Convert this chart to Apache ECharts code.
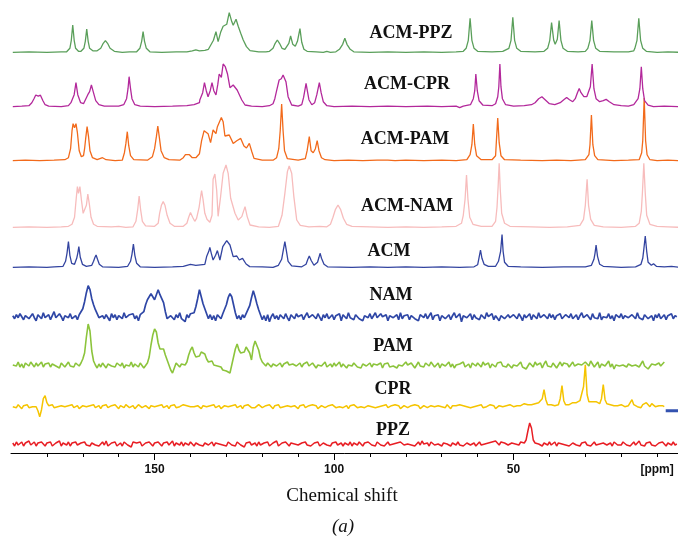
<!DOCTYPE html>
<html>
<head>
<meta charset="utf-8">
<title>13C NMR spectra</title>
<script src="https://cdn.jsdelivr.net/npm/echarts@6/dist/echarts.min.js"></script>
<style>
html, body { margin: 0; padding: 0; background: #fff; }
#chart { width: 678px; height: 536px; }
</style>
</head>
<body>
<div id="chart"></div>
<script>
// spectra from top to bottom
const specNames = ['ACM-PPZ', 'ACM-CPR', 'ACM-PAM', 'ACM-NAM', 'ACM', 'NAM', 'PAM', 'CPR', 'PPZ'];
// baseline of each trace (stack offset)
const specBase = [400.7, 346.3, 292.3, 225.7, 185.7, 136.3, 88, 46.3, 9];

// x axis ticks (ppm)
const axisTicks = [180, 170, 160, 150, 140, 130, 120, 110, 100, 90, 80, 70, 60, 50, 40, 30, 20, 10];
const majorTicks = [150, 100, 50];
const tickLabels = [150, 100, 50, 10];

// [ppm, intensity]
const acmPpz = [
  [189.5,0],[185,0.5],[180,0],[176,0.5],
  [174.5,0.5],[173.6,4],[173.2,12],[172.8,27.3],[172.4,12],[172,4],[171.2,1],
  [170.5,1],[169.7,4],[169.3,11],[168.9,23.3],[168.5,11],[168.1,4],[167.2,1.5],
  [166,1.5],[165,4],[164.3,9],[163.7,11.7],[163.1,9],[162.4,4],[161.2,1],[159,0],[157,0.5],
  [155,0.5],[154.1,4],[153.6,11],[153.2,20.7],[152.8,11],[152.3,4],[151.3,0.5],
  [148,0],[144,0.5],[141,0.5],[139.5,1.5],[138.5,2.5],[137.5,1.5],[136,2],
  [135,3],[134.6,5],[133.6,12],[132.9,20.7],[132.3,10.7],[131.6,20],[130.9,26],[129.9,28],[129.2,39.7],
  [128.5,30.7],[128.1,27],[127.3,33],[126.7,26],[126,19],[125.3,12.3],[124.4,5.7],[123.4,1.7],[121,0.5],[119,0.5],
  [118,1],[117,4],[116.4,9],[115.8,12.3],[115.2,9],[114.5,4],[113.7,3],
  [112.6,9],[112.1,16.3],[111.5,8],[110.8,6],
  [110.2,11],[109.5,23.7],[109,10],[108.4,3],[107.5,1],[105,0.5],[103,0],[102,1],[101,0],
  [99.5,0.5],[98.5,3],[97.6,8],[97,14],[96.4,8],[95.5,3],[94.5,0.5],
  [90,0],[85,0.5],[80,0],[75,0.5],[70,0],[66,0.5],[64,1],
  [63.2,4],[62.6,12],[62.1,34],[61.6,12],[61,4],[60,1],[56,0.5],[53,1],
  [51.3,4],[50.7,12],[50.2,35],[49.7,12],[49.1,4],[48,1],[44,0.5],[41.5,1],
  [40.5,4],[39.9,12],[39.4,29.7],[38.8,12],[38.4,8],[37.8,13],[37.3,31.7],[36.8,12],[36.2,4],[35,1],[32,0.5],[30,1],
  [29.3,4],[28.7,12],[28.2,31.7],[27.7,12],[27.1,4],[26,1],[22,0.5],[18,0.5],[16.5,1.5],
  [16.2,4],[15.6,12],[15.1,34],[14.6,12],[14,4],[13,1],[10,0],[7,0.5],[4,0]
];

const acmCpr = [
  [189.5,0],[187,0.5],[185,1],
  [184.8,1.5],[184.2,4],[183.6,8],[183.1,11.7],[182.4,10.5],[181.8,11.5],[181.1,6],[180.5,2],[179.5,0.5],[176,0],[174,1],
  [173.3,4],[172.4,12],[171.9,24],[171.4,12],[170.6,4],[169.8,3],
  [169,9],[168.6,12],[168.1,15],[167.6,21.7],[167.1,15],[166.4,6],[165.5,2],[164,0.5],[160,0.5],[158.6,2],
  [157.8,8],[157.4,18],[157.1,30],[156.7,18],[156.3,8],[155.5,2],[154,0.5],[150,0],[145,0.5],[141,1],[139,2],[137.5,4],
  [137.4,6.7],[136.6,14],[136.1,24],[135.6,16],[135.1,10],[134.5,16],[134,24],[133.5,16],[132.9,11.7],[132.4,22],
  [132,32.7],[131.4,29.3],[130.9,42.7],[130.3,40],[129.7,33],[129,19],[128.1,21.7],[127,16.7],[125.7,6.7],[124.8,1.7],[123,0.5],[120,0],[118,1],
  [117,3],[116.5,8],[116,16],[115.3,26.7],[114.7,28],[114.2,31.7],[113.4,25],[112.8,10],[111.8,1.7],[110,0.5],[109,2],
  [108.5,9],[108.2,15],[107.8,23.3],[107.4,15],[107,7],[106.2,2],[105.4,4],
  [104.8,12],[104.1,24],[103.6,14],[103,5],[102,1],[100,0],[95,0.5],[90,0],[85,0.5],[80,0],[74,0.5],[70,0],[66,0.5],[65,-1],[64,0.5],[62,2],
  [61.2,8],[60.8,16],[60.5,32.7],[60.1,16],[59.6,6],[58.5,1.5],[56,1],[55,3],
  [54.4,10],[54.1,20],[53.8,42.7],[53.5,20],[53.1,8],[52.2,2],[50,0.5],[47,1],[45,2],
  [44,4],[43,8],[42.1,10],[41.2,7],[40,3],[38.5,2],[37,4],
  [36,7],[35.2,9.3],[34.4,7],[33.5,5],[32.8,8],[32.2,14],[31.7,18.3],[31.2,14],[30.4,10],[29.6,10],[29.2,14],
  [28.6,20],[28.1,42.7],[27.6,18],[27,8],[26,5],[25,6],[24.2,7.3],[23.3,5],[22,2],[20,1],[18,0.5],[16.5,2],
  [15.3,8],[14.8,18],[14.4,40],[14,18],[13.5,6],[12.5,1.5],[11,0],[8,0.5],[4,0]
];

const acmPam = [
  [189.5,0],[186,0.5],[182,0],[178,0.5],[175,1],
  [174,3],[173.4,12],[173,30],[172.7,37],[172.3,33],[171.9,37],[171.5,28],[171,10],[170.4,4],[169.8,5],
  [169.5,12],[169.2,22],[168.8,34],[168.4,24],[168,10],[167.3,3],[166,1],[164.5,3],[163.5,1],[161,0],[159,0.5],
  [158.4,8],[158,17],[157.6,29],[157.2,15],[156.7,5],[155.8,1],[152,0.5],[150.6,4],
  [150,12],[149.5,24],[149.1,34.7],[148.7,24],[148.2,10],[147.3,3],[146,1],[143,0.5],[142,3],
  [141.4,6],[140.9,8],[140.3,6],[139.5,3],[138.5,3],[137.5,7],
  [136.9,20],[136.2,30],[135.1,27],[134.4,18],[133.7,30.7],[132.9,27],[132.5,34],[131.4,43.3],[130.9,39],[130.4,24.7],
  [129.9,24],[129.2,25.7],[128.1,17.3],[127.1,20],[126,22.3],[125.1,14.7],[124.4,12.7],[123.6,17.3],[122.9,9],[122.3,2.3],
  [120,0.5],[117,0.5],[116,3],
  [115.4,12],[115,30],[114.6,56.7],[114.2,30],[113.8,10],[113,2],[110,0.5],[108,2],
  [107.5,10],[106.9,24],[106.4,10],[105.8,8],
  [105.2,12],[104.7,20],[104.2,10],[103.5,3],[102.5,1],[100,0],[96,0.5],[92,0],[88,0.5],[85,0.5],[83,0],[80,0.5],[75,0],[70,0.5],[66,0],[63,1],
  [62.1,6],[61.6,16],[61.2,36.7],[60.8,16],[60.3,5],[59,1],[56,1],[55,5],
  [54.8,18],[54.4,42.7],[54,18],[53.5,5],[52.5,1],[48,0.5],[42,0],[38,0.5],[34,0],[30,1],
  [29,6],[28.7,16],[28.3,45.7],[27.9,16],[27.4,5],[26.5,1],[22,0],[18,0.5],[15,1],
  [14.3,8],[14,20],[13.6,62.7],[13.2,20],[12.8,6],[12,1],[10,0],[7,0.5],[4,0]
];

const acmNam = [
  [189.5,0],[185,0.5],[180,0],[176,0.5],[174,1],
  [173,3],[172.3,10],[171.8,30],[171.5,40.7],[171.2,34],[170.8,40.7],[170.4,28],[169.9,14],[169.4,12],
  [169,22],[168.6,33.3],[168.2,24],[167.7,10],[167,3],[166,1],[162,0.5],[160,1],[158,0],
  [156,0.5],[155.2,6],[154.7,18],[154.3,31.3],[153.9,18],[153.4,6],[152.5,1.5],[150,1],[149,4],
  [148.6,14],[148.1,22],[147.6,25.7],[147.1,22],[146.5,12],[145.7,4],[144.5,1],[142,1],[141,4],
  [140.5,10],[140,14.7],[139.4,10],[138.8,6],[138.3,9],
  [137.6,20],[137.2,30],[136.9,36.7],[136.5,28],[136,14],[135.4,8],[134.6,5],[134,12],
  [133.7,48],[133.2,53.3],[132.7,37],[132.3,11],[131.6,31],[130.9,54],[130.1,62.3],[129.5,54],[128.8,29],[128.3,28],
  [127.6,14],[126.7,7.3],[125.7,10.7],[124.8,20.7],[124.2,10.7],[123.4,2.3],[121,0.5],[118,0],[115.5,1],
  [114.5,12],[113.7,34],[113,55.7],[112.5,61.3],[111.8,54],[111.2,30.7],[110.4,7.3],[109.4,2],[107,0.5],[104,1],[102,0.5],[101,3],
  [100.3,10],[99.6,18],[98.9,22.3],[98.2,18],[97.4,9],[96.5,3],[95,1],[90,0.5],[85,0],[80,0.5],[75,0],[70,0.5],[66,1],[64.5,4],
  [64,12],[63.5,28],[63.1,52.3],[62.7,28],[62.2,10],[61.3,3],[59,1],[56,1],[55,6],
  [54.6,20],[54.3,40],[54,64],[53.7,38],[53.3,14],[52.5,4],[51,1],[45,0.5],[40,0],[35,0.5],[31.5,2],[30.5,8],
  [30,22],[29.5,48],[29.1,22],[28.5,8],[27.5,2],[25,0.5],[20,0],[16,1],[15,4],
  [14.4,16],[14.1,34],[13.7,64],[13.3,34],[12.9,12],[12,3],[10,1],[7,0.5],[4,0]
];

const acm = [
  [189.5,0],[185,0.5],[180,0],[178,0.5],[175.5,1],
  [174.8,6],[174.4,14],[174,25.7],[173.6,12],[173.1,4],[172.3,3],
  [171.7,9],[171.4,14],[171.1,20.7],[170.7,10],[170.1,3],[169,1],[167.5,2],
  [167,6],[166.6,10],[166.3,12.3],[165.9,8],[165.4,3],[164.5,0.5],[160,0],[157.5,1],
  [156.7,6],[156.3,13],[155.9,23.3],[155.5,12],[155,4],[154,0.5],[150,0],[145,0.5],[142,1],[140,3],[138.5,2],[136,3],
  [135.5,10.7],[134.9,16],[134.6,20],[134.2,14],[133.7,7.3],[133,12],[132.5,16.7],[131.8,7.3],[131,20.7],[129.9,26.7],
  [129,22.3],[128.1,10.7],[127.1,11.3],[126.4,7.3],[125.5,9],[124.5,3.3],[123.5,0.7],[120,0.5],[117,0],[115.5,2],
  [114.6,8],[114.1,18],[113.7,25.7],[113.3,17],[112.8,6],[111.8,1.5],[109,0.5],[107.8,3],
  [107.3,8],[106.9,11.3],[106.4,7],[105.6,2],[104.6,5],
  [104.2,10],[103.9,14],[103.5,9],[102.8,3],[101.8,0.5],[95,0],[90,0.5],[85,0],[80,0.5],[75,0],[70,0.5],[65,0],[61,0.5],[60,2.5],
  [59.7,8],[59.2,17.3],[58.8,9],[58.2,3],[57,1],[55,1],[54.2,6],
  [53.6,16],[53.2,32.7],[52.9,16],[52.5,5],[51.5,1],[48,0.5],[42,0],[36,0.5],[30,0.5],[28.3,2],
  [27.6,8],[27.3,14],[27,22.3],[26.6,11],[26,3],[25,1],[20,0],[16,0.5],[14.5,3],
  [14,9],[13.7,18],[13.3,31.3],[12.9,16],[12.5,5],[11.6,2],[11,3.5],[10.2,1],[8,0.5],[6,1],[4,0]
];

// noisy raw spectra: intensity every 0.5 ppm starting at 189.5 ppm
const noiseStart = 189.5;
const noiseStep = 0.5;

const namNoise = [
  1,-2,2,-1,3,0,-3,1,2,-2,0,3,-1,-4,2,1,-2,4,-1,0,
  2,-3,1,5,-1,-2,3,0,-4,1,2,-1,3,-2,0,1,-3,2,3,8,
  15,24,31,27,18,12,7,3,-1,-3,1,-2,2,0,-4,3,-1,2,-3,1,
  2,-2,4,-1,-3,2,0,3,-2,1,-4,2,3,5,12,17,19,23,20,17,
  22,27,22,23,14,5,-2,-4,1,3,-3,2,-1,4,-2,0,-5,2,-1,3,
  1,4,10,18,27,20,13,8,3,-2,2,-3,1,-4,2,0,-2,3,5,12,
  19,23,20,12,4,-2,1,-3,2,-1,3,4,11,19,26,20,13,7,2,-3,
  1,-4,2,-5,0,3,-2,1,-3,2,0,-2,3,-1,-4,2,1,-2,3,0,
  -2,2,-3,1,4,-1,-3,2,0,-2,3,1,-4,2,-1,3,-2,0,2,-3,
  1,-1,3,-4,2,0,-2,4,-1,1,-3,2,3,-2,0,-4,1,2,-1,3,
  -2,1,4,-1,-3,3,0,-2,2,-4,1,3,-1,0,2,-3,4,-2,1,-1,
  2,-3,1,3,-2,0,-4,2,1,-1,3,-2,0,4,-3,1,-1,2,-4,1,
  3,-2,0,2,-3,1,4,-1,-2,3,-5,1,2,-1,0,3,-3,2,-1,1,
  -3,2,1,-2,4,0,-1,3,-3,1,2,-4,1,3,-2,0,2,-1,-3,2,
  1,-2,3,0,-4,2,-1,1,3,-3,2,0,-2,4,-1,-3,2,1,-2,3,
  -1,2,-3,1,0,3,-2,-4,2,1,-1,3,-2,0,2,-3,1,4,-1,-2,
  2,0,-3,3,-1,1,-2,4,-3,0,2,-1,3,-2,1,-4,2,0,-1,3,
  -2,1,3,-1,-3,2,0,-2,4,-1,1,-3,2,3,-2,0,1,-4,2,-1,
  3,-2,0,2,-3,1,-1,3,-2,1,0
];

const pamNoise = [
  0,2,-1,3,-2,1,-3,2,0,-1,3,1,-2,2,-1,0,3,-2,1,-1,
  2,-2,1,3,-1,0,-3,2,1,-2,0,3,-1,1,-2,2,0,-1,2,6,
  12,28,41,34,14,4,0,-3,1,-2,2,0,-3,1,3,-1,0,-2,2,1,
  -1,2,-3,0,2,-1,3,-2,1,0,-2,2,1,-3,-5,2,8,20,30,36,
  33,22,16,14,16,10,5,0,-5,-8,-3,2,0,-2,1,3,0,3,10,15,
  18,12,8,10,9,13,15,11,6,3,1,4,0,2,-1,-3,-2,-5,-4,-6,
  -7,-8,0,8,16,21,15,12,10,13,18,20,12,5,18,24,26,15,7,3,
  1,-1,2,0,-2,1,3,-1,0,2,-2,1,-1,3,0,-2,1,2,-1,0,
  2,-2,1,0,3,-1,-2,2,1,-3,0,2,-1,1,3,-2,0,1,-2,2,
  -1,0,3,-2,1,2,-3,0,1,-1,2,3,-2,0,-3,1,2,-1,0,2,
  -2,1,3,0,-1,2,-3,1,0,2,-2,-4,-1,1,-3,0,2,-1,1,3,
  0,-2,2,1,-3,0,3,-1,1,-2,2,0,-1,3,1,-2,0,2,-3,1,
  2,-1,0,3,-2,1,-3,0,2,1,-1,3,-2,0,1,-3,2,0,-1,2,
  1,-2,3,0,-1,2,-3,1,0,-2,2,1,3,-1,0,-2,1,2,-3,0,
  2,-1,1,3,-2,0,-4,-1,2,1,-2,3,0,-1,2,-3,1,4,-1,0,
  -2,2,1,-3,0,3,-1,2,4,1,-2,0,3,-1,-3,1,2,0,-2,3,
  1,-1,4,2,-2,0,3,-3,1,2,-1,0,4,-2,1,-4,0,2,-1,-3,
  0,2,-2,1,3,-1,-3,0,2,-2,1,4,-1,0,-4,-2,1,3,0,-1,
  2,-1,1,3
];

const cprNoise = [
  0,1,-1,2,0,-2,1,0,2,-1,1,0,-1,0,-4,-10,-3,8,11,4,
  1,0,2,-1,1,0,-2,1,2,0,-1,1,0,2,-1,0,1,-2,0,1,
  2,0,-1,1,0,2,-1,0,1,-2,1,0,2,-1,0,1,-1,2,0,-2,
  1,0,-1,2,1,-1,0,1,-2,0,2,1,-1,0,1,0,-2,1,2,0,
  -1,1,0,2,-1,0,1,-2,1,0,2,-1,1,0,-1,2,0,1,-1,0,
  2,0,-1,1,0,-2,1,2,0,-1,1,0,2,-1,0,1,-2,0,1,2,
  0,-1,1,0,2,-1,0,1,-2,1,0,2,0,-1,1,-1,0,2,1,-1,
  0,1,-1,2,0,-2,1,0,2,-1,1,0,-1,1,2,0,-1,1,0,-2,
  1,0,2,-1,0,1,-1,2,0,1,-2,0,1,2,-1,0,1,-1,2,0,
  -1,1,0,2,-1,0,1,-2,1,0,2,0,-1,1,0,2,-1,0,1,-1,
  0,2,-1,1,0,-2,1,0,2,-1,0,1,-1,2,0,1,-2,0,1,2,
  -1,0,1,-1,2,0,1,-2,0,1,2,-1,0,1,-1,0,2,1,-1,0,
  1,-1,2,0,-2,1,0,1,-1,2,0,1,-1,0,2,-1,1,0,-2,1,
  0,2,-1,1,0,-1,2,0,1,-2,0,1,2,0,-1,1,0,2,1,0,
  2,1,3,1,2,3,1,2,3,2,1,3,2,4,2,8,17,7,2,3,
  2,3,1,3,2,8,21,6,2,3,2,3,4,3,4,5,6,4,20,42,
  12,5,4,5,4,5,4,3,8,22,7,3,1,2,0,1,-1,1,0,2,
  1,0,2,1,3,7,2,1,0,1,-1,2,0,4,2,0,3,1,0,-1,
  1,0,1,0
];

const ppzNoise = [
  1,-2,2,-1,0,2,-2,1,-1,3,-1,0,2,-2,1,-1,2,0,-2,1,
  -1,2,-2,0,1,-1,3,-2,1,0,-1,2,-2,1,0,2,-1,-2,1,0,
  2,-1,0,-2,1,2,-1,1,-2,0,2,-1,3,-2,0,1,-1,2,-2,0,
  1,-2,2,0,-1,1,-3,2,0,1,-1,2,-2,0,1,-1,2,0,-2,1,
  -1,2,0,-2,1,-1,2,-1,0,3,-2,1,0,-1,2,-2,1,0,-1,2,
  0,-2,1,2,-1,0,-2,1,3,-1,0,2,-2,1,-1,0,2,-1,1,-2,
  2,0,-1,1,-2,2,0,-1,1,-3,1,0,2,-1,0,1,-2,2,-1,0,
  1,-1,2,-2,0,1,-1,3,-2,0,1,-1,2,0,-2,1,-1,0,2,-1,
  -2,1,0,2,-1,1,-2,0,1,-1,2,-2,0,1,3,-1,0,-2,1,0,
  2,-1,0,1,-2,1,0,-1,2,-2,1,0,-1,2,0,-2,1,-1,2,0,
  -1,1,-2,2,0,-1,1,-2,0,2,-1,1,0,-2,1,-1,2,0,-1,1,
  0,2,-1,1,-2,0,2,-1,3,0,-1,1,-2,2,0,-1,1,0,2,-2,
  1,-1,0,2,-2,1,0,-1,2,-1,1,-2,0,1,2,-1,0,1,-2,0,
  2,-1,1,0,-2,1,-1,2,0,3,1,-1,2,0,1,2,-1,0,1,2,
  0,1,-1,2,0,1,4,13,21,16,4,1,-1,0,2,-2,1,0,-1,2,
  -1,0,2,-2,1,-1,0,2,-1,1,-2,0,1,2,-1,0,-2,1,0,2,
  -1,1,-2,0,2,-1,1,0,-2,1,2,-1,0,1,-2,2,0,-1,1,-1,
  2,0,-1,1,-2,0,2,-1,1,3,-1,0,-2,1,0,2,-1,1,-2,0,
  1,-1,2,0,-2,1,0,-1,2,-1,0
];

// short blue mark at the right end of the CPR trace
const cprEndMark = [[7.6, -4], [4, -4]];

const specColors = ['#5a9f5a', '#b3289b', '#f26a1b', '#f7bcbc', '#3344a0', '#2f47a6', '#8cc43c', '#f5c400', '#e81e24'];
const specWidths = [1.3, 1.3, 1.3, 1.3, 1.3, 1.7, 1.6, 1.5, 1.5];
const labelPos = [[411, 33], [407, 84], [405, 139], [407, 206], [389, 251], [391, 295], [393, 346], [393, 389], [393, 430]];

const peakData = [acmPpz, acmCpr, acmPam, acmNam, acm];
const noiseData = [namNoise, pamNoise, cprNoise, ppzNoise];

function tracePoints(k) {
    const base = specBase[k];
    if (k < peakData.length) {
        return peakData[k].map(p => [p[0], base + p[1]]);
    }
    const arr = noiseData[k - peakData.length];
    return arr.map((h, i) => [noiseStart - i * noiseStep, base + h]);
}

const series = specNames.map((name, k) => ({
    name: name,
    type: 'line',
    data: tracePoints(k),
    showSymbol: false,
    symbol: 'none',
    silent: true,
    lineStyle: { color: specColors[k], width: specWidths[k] },
    z: 10 - k
}));

series.push({
    type: 'line',
    data: cprEndMark.map(p => [p[0], specBase[7] + p[1]]),
    showSymbol: false,
    symbol: 'none',
    silent: true,
    lineStyle: { color: '#3352b0', width: 3 }
});

const graphics = specNames.map((name, k) => ({
    type: 'text',
    z: 100,
    style: {
        text: name,
        x: labelPos[k][0],
        y: labelPos[k][1],
        align: 'center',
        verticalAlign: 'middle',
        font: 'bold 18px "Liberation Serif", "Times New Roman", serif',
        fill: '#111'
    }
}));
graphics.push({
    type: 'text',
    z: 100,
    style: {
        text: 'Chemical shift',
        x: 342, y: 496,
        align: 'center', verticalAlign: 'middle',
        font: '19px "Liberation Serif", "Times New Roman", serif',
        fill: '#111'
    }
});
graphics.push({
    type: 'text',
    z: 100,
    style: {
        text: '(a)',
        x: 343, y: 527,
        align: 'center', verticalAlign: 'middle',
        font: 'italic 19px "Liberation Serif", "Times New Roman", serif',
        fill: '#111'
    }
});

const chart = echarts.init(document.getElementById('chart'), null, { renderer: 'canvas' });
chart.setOption({
    animation: false,
    backgroundColor: '#fff',
    grid: { left: 11, right: -15, top: 0, bottom: 83, outerBoundsMode: 'none' },
    xAxis: [{
        type: 'value',
        min: 0,
        max: 190,
        inverse: true,
        position: 'bottom',
        axisLine: { show: true, lineStyle: { color: '#000', width: 1 } },
        axisTick: { show: true, customValues: axisTicks, length: 4, lineStyle: { color: '#000', width: 1 } },
        axisLabel: {
            customValues: tickLabels,
            formatter: v => (v === 10 ? '[ppm]' : String(v)),
            fontFamily: '"Liberation Sans", Arial, sans-serif',
            fontWeight: 'bold',
            fontSize: 12,
            color: '#111',
            margin: 11
        },
        splitLine: { show: false }
    }, {
        type: 'value',
        min: 0,
        max: 190,
        inverse: true,
        position: 'bottom',
        axisLine: { show: false },
        axisTick: { show: true, customValues: majorTicks, length: 7, lineStyle: { color: '#000', width: 1 } },
        axisLabel: { show: false },
        splitLine: { show: false }
    }],
    yAxis: { type: 'value', min: 0, max: 453, show: false },
    series: series,
    graphic: graphics
});
</script>
</body>
</html>
